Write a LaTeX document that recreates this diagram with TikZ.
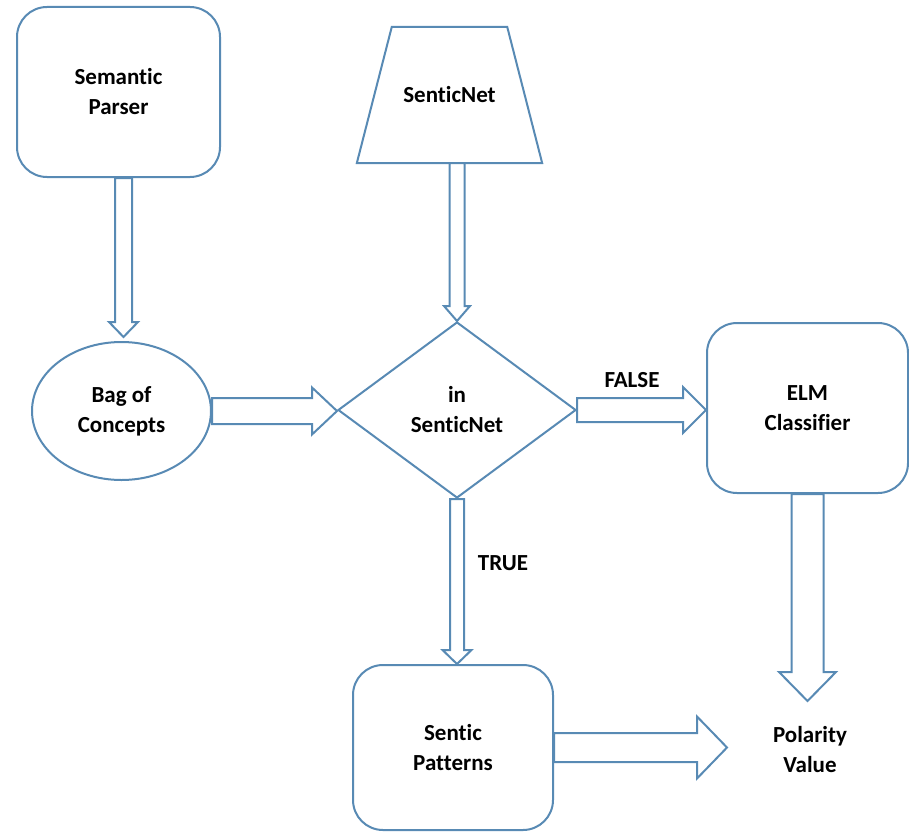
\documentclass[tikz,border=0pt]{standalone}
\usepackage{fontspec}
\setmainfont{Carlito}[Ligatures={NoCommon}]
\usetikzlibrary{shapes.geometric,calc}

\definecolor{edgeblue}{RGB}{88,138,180}

\tikzset{
  box/.style={draw=edgeblue, line width=2pt, fill=white, rounded corners=30pt,
    align=center, font=\bfseries\fontsize{23}{30}\selectfont},
  txt/.style={align=center, font=\bfseries\fontsize{23}{30}\selectfont},
  outline/.style={draw=edgeblue, line width=2pt, line join=miter},
  flow/.style={outline, fill=white},
}

% hollow block arrow pointing down: start, tip, shaft half width, head half width, head length
\newcommand\fatdown[5]{%
  \path[flow] let \p1=(#1), \p2=(#2) in
    (\x1-#3pt,\y1) -- (\x1-#3pt,\y2+#5pt) -- (\x1-#4pt,\y2+#5pt) -- (\x1,\y2)
    -- (\x1+#4pt,\y2+#5pt) -- (\x1+#3pt,\y2+#5pt) -- (\x1+#3pt,\y1) -- cycle;}
% hollow block arrow pointing right
\newcommand\fatright[5]{%
  \path[flow] let \p1=(#1), \p2=(#2) in
    (\x1,\y1+#3pt) -- (\x2-#5pt,\y1+#3pt) -- (\x2-#5pt,\y1+#4pt) -- (\x2,\y1)
    -- (\x2-#5pt,\y1-#4pt) -- (\x2-#5pt,\y1-#3pt) -- (\x1,\y1-#3pt) -- cycle;}

\begin{document}
\begin{tikzpicture}[x=1pt,y=-1pt]
\useasboundingbox (0,0) rectangle (909,832);

% process boxes
\node[box, minimum width=203pt, minimum height=170pt] (sp) at (118.5,92) {Semantic\\Parser};
\node[box, ellipse, rounded corners=0pt, minimum width=179pt, minimum height=138pt] (bag) at (121.5,411) {Bag of\\Concepts};

% data store: trapezoid, narrow side on top
\node[txt, minimum width=185pt, minimum height=136pt, inner sep=0pt] (sn) at (449.5,95) {SenticNet};
\path[outline] (sn.south west) -- ([xshift=35pt]sn.north west) -- ([xshift=-35pt]sn.north east)
  -- (sn.south east) -- cycle;

\node[box, diamond, rounded corners=0pt, minimum width=238pt, minimum height=176pt, inner sep=0pt] (dec) at (457,410) {in\\SenticNet};
\node[box, minimum width=201pt, minimum height=170pt] (elm) at (807.5,408) {ELM\\Classifier};
\node[box, minimum width=200pt, minimum height=165pt] (spat) at (453,747.5) {Sentic\\Patterns};
\node[txt] (pol) at (810,750) {Polarity\\Value};

% arrow ends in front of the result text
\coordinate (polin) at (807.5,701);
\coordinate (polleft) at (727,748);

% connectors
\fatdown{[xshift=5pt]sp.south}{[yshift=4pt]bag.north}{8.5}{14.5}{15}
\fatdown{sn.south -| dec.north}{dec.north}{7.5}{13}{15}
\fatright{bag.east}{dec.west}{13}{23.5}{25}
\fatright{dec.east}{elm.west}{12}{23}{23}
\fatdown{dec.south}{spat.north}{7}{14.5}{14}
\fatdown{elm.south}{polin}{16}{28.5}{29}
\fatright{spat.east}{polleft}{14.5}{31}{30}

% branch labels
\node[txt] (lfalse) at (632,380) {FALSE};
\node[txt] (ltrue) at (503,563) {TRUE};
\end{tikzpicture}
\end{document}
